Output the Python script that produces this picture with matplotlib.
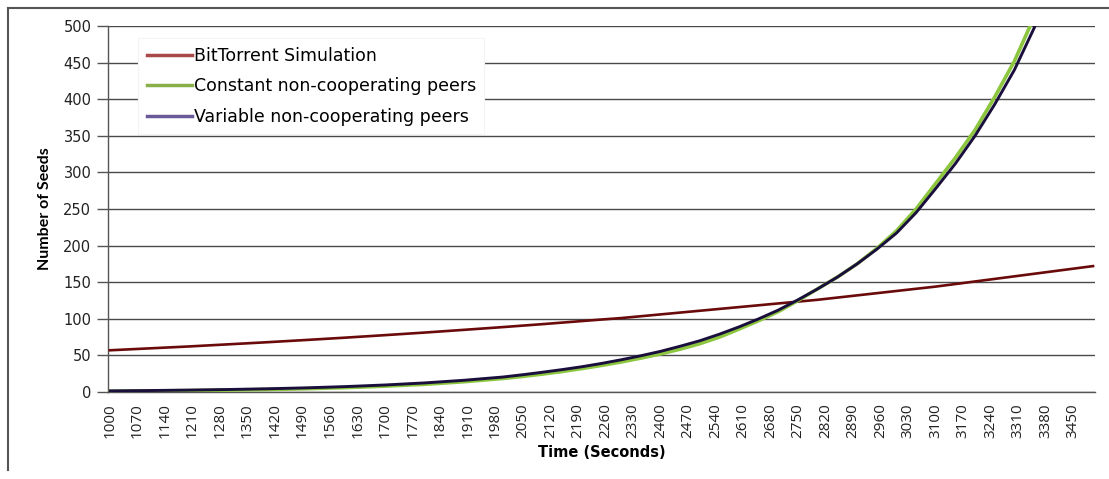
import matplotlib
matplotlib.use("Agg")
import matplotlib.pyplot as plt
from matplotlib.lines import Line2D

# time axis (seconds): 100 s steps early on, 50 s steps where the curves bend
time_s = [1000, 1100, 1200, 1300, 1400, 1500, 1600, 1700, 1800, 1900,
          2000, 2050, 2100, 2150, 2200, 2250, 2300, 2350, 2400, 2450,
          2500, 2550, 2600, 2650, 2700, 2750, 2800, 2850, 2900, 2950,
          3000, 3050, 3100, 3150, 3200, 3250, 3300, 3350, 3400, 3450, 3500]

bittorrent = [57, 59.6, 62.2, 65.1, 68.0, 71.1, 74.3, 77.7, 81.2, 84.9,
              88.7, 90.7, 92.7, 94.8, 96.9, 99, 101, 103.5, 106, 108.5,
              111, 113.5, 116, 118.5, 121, 123.5, 126, 129, 132, 135,
              138, 141, 144, 147.5, 151, 154.5, 158, 161.5, 165, 168.5, 172]

constant_nc = [1.0, 1.4, 1.9, 2.6, 3.4, 4.5, 6.0, 8.0, 10.5, 14,
               18.5, 21.3, 24.5, 28, 32, 36.3, 41, 46.3, 52, 58.5,
               66, 75, 86, 97.5, 110, 125, 141, 157, 175, 196,
               220, 250, 285, 320, 358, 403, 452, 512, 580, 650, 730]

variable_nc = [1.5, 2.0, 2.6, 3.4, 4.4, 5.7, 7.4, 9.6, 12.4, 16,
               20.5, 23.6, 27, 30.6, 34.5, 39, 44, 49.5, 55.5, 62.5,
               70, 79, 89, 100, 112, 126, 141, 157, 175, 195,
               217, 245, 278, 312, 350, 393, 440, 497, 560, 630, 700]

tick_times = list(range(1000, 3451, 70))
y_ticks = list(range(0, 501, 50))

names = ["BitTorrent Simulation", "Constant non-cooperating peers",
         "Variable non-cooperating peers"]

W, H = 1109, 479
fig = plt.figure(figsize=(W / 100, H / 100), dpi=100)
ax = fig.add_axes([108 / W, 1 - 392 / H, (1095 - 108) / W, (392 - 26) / H])

ax.plot(time_s, bittorrent, color="#6a0a0a", lw=1.9, zorder=3)
ax.plot(time_s, constant_nc, color="#8cc63f", lw=2.6, zorder=3)
ax.plot(time_s, variable_nc, color="#1a0f3c", lw=2.1, zorder=4)

ax.set_xlim(995, 3505)
ax.set_ylim(0, 500)
ax.set_yticks(y_ticks)
ax.set_xticks(tick_times)
ax.set_xticklabels([str(t) for t in tick_times], rotation=90,
                   fontfamily="Open Sans", fontsize=11, color="#222222")
for lbl in ax.get_yticklabels():
    lbl.set_fontfamily("DejaVu Sans")
    lbl.set_fontsize(10.5)
    lbl.set_color("#222222")

ax.yaxis.grid(True, color="#4a4a4a", lw=1.0)
ax.set_axisbelow(True)
ax.tick_params(axis="y", length=8, width=1, color="#555555", pad=4)
ax.tick_params(axis="x", length=0, pad=8)
for side in ["top", "right"]:
    ax.spines[side].set_visible(False)
for side in ["left", "bottom"]:
    ax.spines[side].set_color("#555555")
    ax.spines[side].set_linewidth(1.0)

ax.set_xlabel("Time (Seconds)", fontfamily="DejaVu Sans", fontweight="bold",
              fontsize=10.5, labelpad=5)
ax.set_ylabel("Number of Seeds", fontfamily="Lato", fontweight="bold",
              fontsize=11.5, labelpad=8)

handles = [Line2D([], [], color="#a84848", lw=2.5),
           Line2D([], [], color="#8ab04a", lw=2.5),
           Line2D([], [], color="#6a5a9a", lw=2.5)]
leg = ax.legend(handles, names, loc="upper left",
                bbox_to_anchor=(138 / W, 1 - 38 / H),
                bbox_transform=fig.transFigure,
                prop={"family": "DejaVu Sans", "size": 12.5},
                frameon=True, fancybox=False, framealpha=1.0,
                edgecolor="#f4f4f4", handlelength=2.6, handletextpad=0.1,
                labelspacing=0.72, borderpad=0.5, borderaxespad=0)
leg.get_frame().set_linewidth(0.8)
leg.set_zorder(5)

# outer frame: left and top edges
fig.add_artist(Line2D([8 / W, 8 / W], [1 - 470 / H, 1 - 8 / H],
                      transform=fig.transFigure, color="#555555", lw=1.5))
fig.add_artist(Line2D([8 / W, 1.0], [1 - 8 / H, 1 - 8 / H],
                      transform=fig.transFigure, color="#555555", lw=1.5))

fig.savefig("out.png", dpi=100)
